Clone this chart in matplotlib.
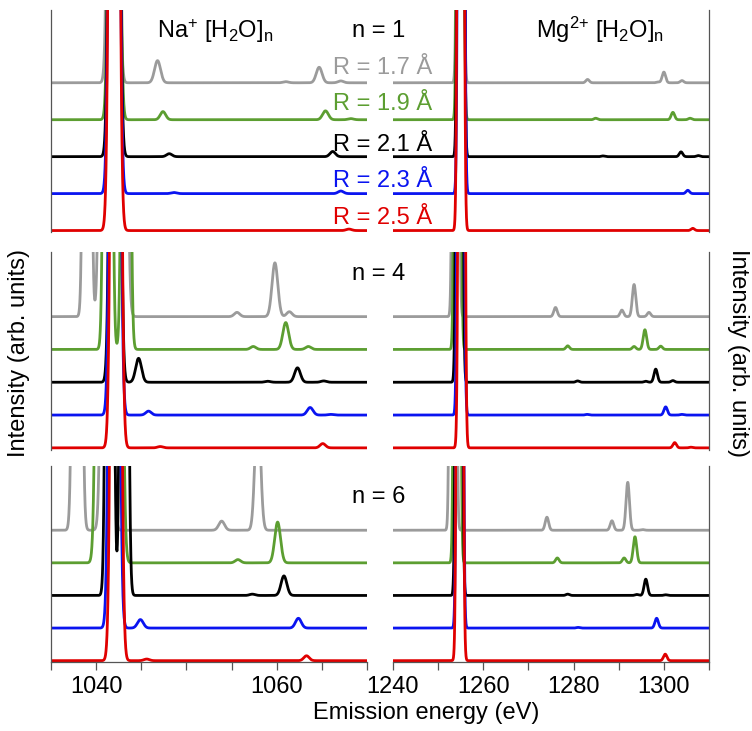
import numpy as np
import matplotlib
matplotlib.use('Agg')
import matplotlib.pyplot as plt

plt.rcParams['font.family'] = ['Liberation Sans', 'DejaVu Sans']
plt.rcParams['mathtext.default'] = 'regular'

W, H = 752, 731

r_labels = ['R = 1.7 Å', 'R = 1.9 Å', 'R = 2.1 Å', 'R = 2.3 Å', 'R = 2.5 Å']
colors = ['#9b9b9b', '#5c9e31', '#000000', '#0a14f0', '#e00000']
offsets = [4, 3, 2, 1, 0]

# peaks per R (gray, green, black, blue, red): (energy eV, height, sigma eV)
na_n1 = [
    [(1041.9, 60, .34), (1046.8, .6, .33), (1061.0, .03, .3), (1064.7, .42, .32), (1067.1, .05, .3)],
    [(1042.0, 60, .34), (1047.4, .22, .3), (1065.4, .24, .32), (1068.2, .03, .3)],
    [(1042.0, 60, .34), (1048.1, .08, .3), (1066.2, .14, .3)],
    [(1042.0, 60, .34), (1048.6, .03, .3), (1067.1, .07, .3)],
    [(1042.0, 60, .34), (1068.0, .04, .3)],
]
na_n4 = [
    [(1039.0, 55, .26), (1041.0, 55, .35), (1042.8, 55, .35), (1055.6, .13, .3), (1059.8, 1.64, .32), (1061.4, .15, .3)],
    [(1041.3, 55, .28), (1043.3, 55, .28), (1057.4, .09, .3), (1061.0, .82, .32), (1063.5, .09, .3)],
    [(1042.1, 60, .34), (1044.7, .73, .32), (1059.0, .03, .3), (1062.3, .44, .32), (1065.2, .04, .3)],
    [(1042.1, 60, .34), (1045.8, .12, .3), (1063.7, .23, .32), (1066.0, .02, .3)],
    [(1042.2, 60, .34), (1047.1, .04, .3), (1065.1, .13, .3)],
]
na_n6 = [
    [(1037.9, 55, .30), (1041.2, 55, .35), (1053.9, .28, .32), (1057.9, 4.0, .30)],
    [(1040.6, 55, .35), (1042.3, 55, .35), (1055.7, .10, .3), (1060.1, 1.25, .32)],
    [(1041.5, 55, .27), (1043.1, 55, .27), (1057.3, .04, .3), (1060.8, .60, .32)],
    [(1042.0, 60, .34), (1044.9, .26, .32), (1062.4, .30, .32)],
    [(1042.2, 60, .34), (1045.6, .05, .3), (1063.3, .15, .3)],
]
mg_n1 = [
    [(1254.9, 100, .38), (1283.1, .09, .38), (1298.7, .02, .38), (1300.0, .29, .38), (1304.0, .06, .38)],
    [(1254.9, 100, .38), (1284.9, .04, .38), (1302.0, .20, .38), (1305.8, .04, .38)],
    [(1255.0, 100, .38), (1286.5, .02, .38), (1303.8, .13, .38), (1307.6, .03, .38)],
    [(1255.1, 100, .38), (1305.3, .09, .38)],
    [(1255.0, 100, .38), (1306.4, .06, .38)],
]
mg_n4 = [
    [(1253.9, 100, .38), (1276.0, .28, .38), (1290.7, .20, .38), (1293.4, .98, .38), (1296.7, .13, .38)],
    [(1254.3, 100, .38), (1278.7, .11, .38), (1293.4, .09, .38), (1295.8, .60, .38), (1299.3, .10, .38)],
    [(1254.7, 100, .38), (1280.9, .04, .38), (1296.0, .03, .38), (1298.2, .40, .38), (1302.0, .05, .38)],
    [(1255.0, 100, .38), (1283.0, .02, .38), (1300.4, .25, .38), (1304.0, .02, .38)],
    [(1255.2, 100, .38), (1302.4, .16, .38), (1306.0, .02, .38)],
]
mg_n6 = [
    [(1253.3, 100, .38), (1274.1, .40, .38), (1288.5, .29, .38), (1292.0, 1.47, .38), (1295.3, .02, .38)],
    [(1254.2, 100, .38), (1276.4, .15, .38), (1291.2, .15, .38), (1293.6, .80, .38)],
    [(1254.6, 100, .38), (1278.7, .04, .38), (1294.0, .03, .38), (1296.0, .50, .38), (1300.4, .02, .38)],
    [(1254.8, 100, .38), (1281.0, .02, .38), (1298.4, .30, .38)],
    [(1254.8, 100, .38), (1300.3, .20, .38)],
]

na_xlim = (1035, 1070)
mg_xlim = (1240, 1310)

# panel rows: (top px, bottom px)
rows = [(10, 232.4), (252, 449.5), (466, 662.3)]
ylim = (-0.05, 5.97)


def spectrum(x, peaks):
    y = np.zeros_like(x)
    for c, h, s in peaks:
        y += h * np.exp(-(x - c) ** 2 / (2 * s ** 2))
    return y


fig = plt.figure(figsize=(W / 100, H / 100), dpi=100)


def make_axes(x0, x1, row, side, xlim, bottom):
    top, bot = rows[row]
    ax = fig.add_axes([x0 / W, 1 - bot / H, (x1 - x0) / W, (bot - top) / H])
    ax.set_xlim(xlim)
    ax.set_ylim(ylim)
    for s in ['top', 'left', 'right', 'bottom']:
        ax.spines[s].set_visible(False)
    ax.spines[side].set_visible(True)
    ax.spines[side].set_color('#555555')
    ax.spines[side].set_linewidth(0.9)
    ax.set_yticks([])
    if bottom:
        ax.spines['bottom'].set_visible(True)
        ax.spines['bottom'].set_color('#555555')
        ax.spines['bottom'].set_linewidth(0.9)
        ax.tick_params(axis='x', which='both', direction='out', length=6,
                       width=0.9, color='#555555', labelsize=17, pad=4)
    else:
        ax.set_xticks([])
    return ax


panels = [
    (na_n1, 0, 'left'), (mg_n1, 0, 'right'),
    (na_n4, 1, 'left'), (mg_n4, 1, 'right'),
    (na_n6, 2, 'left'), (mg_n6, 2, 'right'),
]

for data, row, side in panels:
    if side == 'left':
        ax = make_axes(51, 367, row, 'left', na_xlim, row == 2)
        xlim = na_xlim
    else:
        ax = make_axes(393, 709, row, 'right', mg_xlim, row == 2)
        xlim = mg_xlim
    x = np.linspace(xlim[0], xlim[1], 4000)
    for peaks, off, col in zip(data, offsets, colors):
        ax.plot(x, spectrum(x, peaks) + off, color=col, lw=2.0,
                solid_joinstyle='round')
    if row == 2:
        if side == 'left':
            ax.set_xticks([1040, 1060])
            ax.set_xticks([1035, 1045, 1050, 1055, 1065, 1070], minor=True)
        else:
            ax.set_xticks([1240, 1260, 1280, 1300])
            ax.set_xticks([1250, 1270, 1290, 1310], minor=True)


def ftext(x, y, s, **kw):
    fig.text(x / W, 1 - y / H, s, **kw)


ftext(215, 38, 'Na$^{+}$ [H$_{2}$O]$_{n}$', ha='center', va='baseline', fontsize=17)
ftext(600, 38, 'Mg$^{2{+}}$ [H$_{2}$O]$_{n}$', ha='center', va='baseline', fontsize=17)
ftext(379, 37, 'n = 1', ha='center', va='baseline', fontsize=17)
ftext(379, 280, 'n = 4', ha='center', va='baseline', fontsize=17)
ftext(379, 503, 'n = 6', ha='center', va='baseline', fontsize=17)

r_base = [74, 110, 151, 187, 224]
for lab, col, yb in zip(r_labels, colors, r_base):
    ftext(432, yb, lab, ha='right', va='baseline', fontsize=17, color=col)

ftext(426, 713, 'Emission energy (eV)', ha='center', va='center', fontsize=17)
ftext(19, 353, 'Intensity (arb. units)', ha='center', va='center', rotation=90, fontsize=17)
ftext(738, 353, 'Intensity (arb. units)', ha='center', va='center', rotation=270, fontsize=17)

fig.savefig('out.png', dpi=100)
